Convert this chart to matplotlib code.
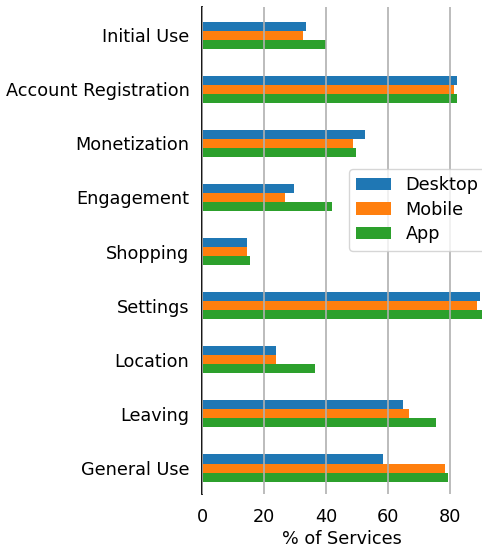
import matplotlib
matplotlib.use("Agg")
import matplotlib.pyplot as plt
import numpy as np

categories = ["Initial Use", "Account Registration", "Monetization", "Engagement",
              "Shopping", "Settings", "Location", "Leaving", "General Use"]
desktop = [33.5, 82.3, 52.6, 29.7, 14.5, 89.7, 23.9, 64.8, 58.4]
mobile = [32.6, 81.3, 48.7, 26.8, 14.5, 88.7, 23.9, 66.8, 78.4]
app = [40.0, 82.3, 49.7, 41.9, 15.5, 91.0, 36.5, 75.5, 79.4]
series_names = ["Desktop", "Mobile", "App"]
xticks = [0, 20, 40, 60, 80]

plt.rcParams["font.family"] = ["DejaVu Sans"]
plt.rcParams["font.size"] = 12.7
fig = plt.figure(figsize=(4.82, 5.51), dpi=100)
ax = fig.add_axes([202/482, 1 - 494/551, 1 - 202/482, (494 - 7)/551])

y = np.arange(len(categories))
h = 0.5 / 3
colors = ["#1f77b4", "#ff7f0e", "#2ca02c"]
for i, (vals, name) in enumerate(zip([desktop, mobile, app], series_names)):
    ax.barh(y + (i - 1) * h, vals, height=h, color=colors[i], label=name)

ax.set_yticks(y)
ax.set_yticklabels(categories)
ax.set_ylim(8.48, -0.52)
ax.set_xlim(0, 90.3)
ax.set_xticks(xticks)
ax.grid(axis="x", color="#b0b0b0", linewidth=1.2)
ax.set_axisbelow(False)
for s in ["top", "right", "bottom"]:
    ax.spines[s].set_visible(False)
ax.spines["left"].set_color("black")
ax.spines["left"].set_linewidth(1.3)
ax.tick_params(axis="both", length=0)
ax.tick_params(axis="y", pad=9)
ax.tick_params(axis="x", pad=10)
ax.set_xlabel("% of Services", labelpad=3)

fig.legend(loc="upper left", bbox_to_anchor=(349/482, 1 - 169/551),
           frameon=True, borderaxespad=0, handlelength=2.0, labelspacing=0.38)

fig.savefig("out.png", dpi=100)
